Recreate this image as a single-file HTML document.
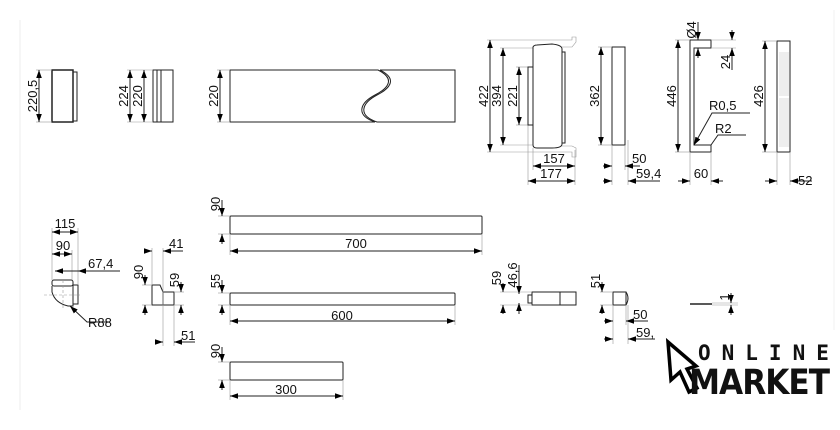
<!DOCTYPE html>
<html><head><meta charset="utf-8"><style>
html,body{margin:0;padding:0;background:#fff;}
svg{display:block;}
text{font-family:"Liberation Sans",Arial,sans-serif;font-size:13px;fill:#111;}
</style></head><body>
<svg width="840" height="430" viewBox="0 0 840 430" xmlns="http://www.w3.org/2000/svg">
<defs>
<marker id="a" viewBox="0 0 10 10" refX="10" refY="5" markerWidth="8" markerHeight="8" orient="auto-start-reverse"><path d="M0,1.5 L10,5 L0,8.5 z" fill="#000"/></marker>
</defs>
<line x1="20" y1="20" x2="20" y2="410" stroke="#eee"/>
<line x1="834" y1="10" x2="834" y2="330" stroke="#f2f2f2"/>
<g stroke="#222" fill="none" stroke-width="1">
<rect x="52" y="70" width="21" height="52" stroke-width="1.5"/>
<path d="M73,72 H77 V121 H73"/>
<g stroke="#999" stroke-width="0.6"><line x1="36" y1="70" x2="52" y2="70"/><line x1="36" y1="122" x2="52" y2="122"/></g>
<line x1="39" y1="70" x2="39" y2="122" marker-start="url(#a)" marker-end="url(#a)"/>
<rect x="153" y="70" width="20" height="52"/>
<line x1="157" y1="70" x2="157" y2="122"/><line x1="161" y1="70" x2="161" y2="122"/>
<g stroke="#999" stroke-width="0.6"><line x1="127" y1="70" x2="153" y2="70"/><line x1="127" y1="122" x2="153" y2="122"/></g>
<line x1="130" y1="70" x2="130" y2="122" marker-start="url(#a)" marker-end="url(#a)"/>
<line x1="144" y1="70" x2="144" y2="122" marker-start="url(#a)" marker-end="url(#a)"/>
<path d="M230,70 H378 C398,80 385,90 375,95 C360,103 355,115 375,122 H230 Z"/>
<path d="M380,70 H455 V122 H377 C357,115 362,103 377,95 C387,90 400,80 380,70" />
<g stroke="#999" stroke-width="0.6"><line x1="217" y1="70" x2="230" y2="70"/><line x1="217" y1="122" x2="230" y2="122"/></g>
<line x1="220" y1="70" x2="220" y2="122" marker-start="url(#a)" marker-end="url(#a)"/>
<g stroke="#999" stroke-width="0.6">
<path d="M487,40 H572 V37 H576 V42 L572,47 H562"/>
<path d="M487,152 H572 V157 H576 V148 L572,146 H562"/>
<line x1="500" y1="48" x2="533" y2="48"/><line x1="500" y1="145" x2="533" y2="145"/>
<line x1="516" y1="67" x2="528" y2="67"/><line x1="516" y1="125" x2="528" y2="125"/>
<line x1="533" y1="148" x2="533" y2="170"/><line x1="528" y1="125" x2="528" y2="185"/><line x1="575" y1="150" x2="575" y2="185"/>
</g>
<path d="M533,47 Q534,45 537,45 L552,44 Q562,45 562,49 V144 Q562,148 552,148 H537 Q533,148 533,145 Z"/>
<path d="M562,52 H565 V143 H562"/>
<path d="M533,67 H528 V125 H533"/>
<line x1="490" y1="40" x2="490" y2="152" marker-start="url(#a)" marker-end="url(#a)"/>
<line x1="503" y1="48" x2="503" y2="145" marker-start="url(#a)" marker-end="url(#a)"/>
<line x1="519" y1="67" x2="519" y2="125" marker-start="url(#a)" marker-end="url(#a)"/>
<line x1="533" y1="166" x2="575" y2="166" marker-start="url(#a)" marker-end="url(#a)"/>
<line x1="528" y1="181" x2="575" y2="181" marker-start="url(#a)" marker-end="url(#a)"/>
<rect x="612" y="47" width="13" height="98"/>
<g stroke="#999" stroke-width="0.6"><line x1="598" y1="47" x2="612" y2="47"/><line x1="598" y1="145" x2="612" y2="145"/>
<line x1="612" y1="145" x2="612" y2="185"/><line x1="625" y1="145" x2="625" y2="170"/><line x1="628" y1="140" x2="628" y2="185"/></g>
<line x1="601" y1="47" x2="601" y2="145" marker-start="url(#a)" marker-end="url(#a)"/>
<line x1="603" y1="166" x2="612" y2="166" marker-end="url(#a)"/><line x1="640" y1="166" x2="625" y2="166" marker-end="url(#a)"/>
<line x1="603" y1="181" x2="612" y2="181" marker-end="url(#a)"/><line x1="660" y1="181" x2="628" y2="181" marker-end="url(#a)"/>
<path d="M690,40 H711 V48 H694 V145 H711 V152 H690 Z"/>
<g stroke="#999" stroke-width="0.6"><line x1="675" y1="40" x2="690" y2="40"/><line x1="675" y1="152" x2="690" y2="152"/>
<line x1="711" y1="40" x2="736" y2="40"/><line x1="711" y1="48" x2="736" y2="48"/>
<line x1="690" y1="152" x2="690" y2="185"/><line x1="711" y1="152" x2="711" y2="185"/></g>
<line x1="678" y1="40" x2="678" y2="152" marker-start="url(#a)" marker-end="url(#a)"/>
<line x1="698" y1="22" x2="698" y2="40" marker-end="url(#a)"/><line x1="698" y1="58" x2="698" y2="48" marker-end="url(#a)"/>
<line x1="732" y1="30" x2="732" y2="40" marker-end="url(#a)"/><line x1="732" y1="70" x2="732" y2="48" marker-end="url(#a)"/>
<path d="M750,113 H712 L694,145" marker-end="url(#a)"/>
<path d="M746,135 H718 L711,145"/>
<line x1="678" y1="181" x2="690" y2="181" marker-end="url(#a)"/><line x1="723" y1="181" x2="711" y2="181" marker-end="url(#a)"/>
<rect x="777" y="41" width="13" height="111"/>
<g stroke="#bbb" stroke-width="0.5">
<line x1="780" y1="52" x2="780" y2="147"/><line x1="782" y1="52" x2="782" y2="147"/><line x1="784" y1="52" x2="784" y2="147"/><line x1="786" y1="52" x2="786" y2="147"/><line x1="788" y1="52" x2="788" y2="147"/>
</g>
<line x1="778" y1="97" x2="789" y2="97" stroke="#fff" stroke-width="2"/>
<g stroke="#999" stroke-width="0.6"><line x1="762" y1="41" x2="777" y2="41"/><line x1="762" y1="152" x2="777" y2="152"/>
<line x1="777" y1="152" x2="777" y2="185"/><line x1="790" y1="152" x2="790" y2="185"/></g>
<line x1="765" y1="41" x2="765" y2="152" marker-start="url(#a)" marker-end="url(#a)"/>
<line x1="765" y1="181" x2="777" y2="181" marker-end="url(#a)"/><line x1="812" y1="181" x2="790" y2="181" marker-end="url(#a)"/>

<rect x="230" y="216" width="252" height="18" rx="1"/>
<g stroke="#999" stroke-width="0.6"><line x1="218" y1="216" x2="230" y2="216"/><line x1="218" y1="234" x2="230" y2="234"/><line x1="230" y1="234" x2="230" y2="255"/><line x1="482" y1="234" x2="482" y2="255"/></g>
<line x1="222" y1="200" x2="222" y2="216" marker-end="url(#a)"/><line x1="222" y1="244" x2="222" y2="234" marker-end="url(#a)"/>
<line x1="230" y1="251" x2="482" y2="251" marker-start="url(#a)" marker-end="url(#a)"/>
<rect x="230" y="293" width="225" height="12" rx="1"/>
<g stroke="#999" stroke-width="0.6"><line x1="218" y1="293" x2="230" y2="293"/><line x1="218" y1="305" x2="230" y2="305"/><line x1="230" y1="305" x2="230" y2="325"/><line x1="455" y1="305" x2="455" y2="325"/></g>
<line x1="222" y1="280" x2="222" y2="293" marker-end="url(#a)"/><line x1="222" y1="315" x2="222" y2="305" marker-end="url(#a)"/>
<line x1="230" y1="321" x2="455" y2="321" marker-start="url(#a)" marker-end="url(#a)"/>
<rect x="230" y="362" width="113" height="18" rx="1"/>
<g stroke="#999" stroke-width="0.6"><line x1="218" y1="362" x2="230" y2="362"/><line x1="218" y1="380" x2="230" y2="380"/><line x1="230" y1="380" x2="230" y2="400"/><line x1="343" y1="380" x2="343" y2="400"/></g>
<line x1="222" y1="347" x2="222" y2="362" marker-end="url(#a)"/><line x1="222" y1="390" x2="222" y2="380" marker-end="url(#a)"/>
<line x1="230" y1="396" x2="343" y2="396" marker-start="url(#a)" marker-end="url(#a)"/>

<rect x="52" y="280" width="21" height="6" rx="2"/>
<path d="M52,286 V292 Q55,303 68,306 H73 V286"/>
<rect x="73" y="285" width="5" height="19"/>
<g stroke="#999" stroke-width="0.6"><line x1="52" y1="228" x2="52" y2="280"/><line x1="72" y1="250" x2="72" y2="280"/><line x1="78" y1="228" x2="78" y2="285"/><line x1="44" y1="295" x2="80" y2="295" stroke-dasharray="3,2"/><line x1="63" y1="280" x2="63" y2="310" stroke-dasharray="3,2"/></g>
<line x1="52" y1="232" x2="78" y2="232" marker-start="url(#a)" marker-end="url(#a)"/>
<line x1="52" y1="254" x2="72" y2="254" marker-start="url(#a)" marker-end="url(#a)"/>
<line x1="55" y1="271" x2="120" y2="271"/>
<line x1="55" y1="271" x2="62" y2="271" marker-start="url(#a)"/><line x1="90" y1="271" x2="78" y2="271" marker-end="url(#a)"/>
<path d="M110,322 H87 L70,306" marker-end="url(#a)"/>
<path d="M152,285 H160 L163,292 V305 H152 Z"/>
<rect x="163" y="292" width="11" height="13"/>
<g stroke="#999" stroke-width="0.6"><line x1="152" y1="248" x2="152" y2="285"/><line x1="163" y1="248" x2="163" y2="346"/><line x1="174" y1="305" x2="174" y2="346"/>
<line x1="142" y1="285" x2="152" y2="285"/><line x1="142" y1="305" x2="152" y2="305"/><line x1="174" y1="292" x2="184" y2="292"/><line x1="174" y1="305" x2="184" y2="305"/></g>
<line x1="145" y1="251" x2="152" y2="251" marker-end="url(#a)"/><line x1="183" y1="251" x2="163" y2="251" marker-end="url(#a)"/>
<line x1="145" y1="275" x2="145" y2="285" marker-end="url(#a)"/><line x1="145" y1="315" x2="145" y2="305" marker-end="url(#a)"/>
<line x1="181" y1="282" x2="181" y2="292" marker-end="url(#a)"/><line x1="181" y1="315" x2="181" y2="305" marker-end="url(#a)"/>
<line x1="156" y1="342" x2="163" y2="342" marker-end="url(#a)"/><line x1="195" y1="342" x2="174" y2="342" marker-end="url(#a)"/>

<rect x="528" y="295" width="4" height="8"/>
<rect x="532" y="292" width="28" height="13"/><rect x="560" y="292" width="16" height="13"/>
<g stroke="#999" stroke-width="0.6"><line x1="500" y1="292" x2="532" y2="292"/><line x1="500" y1="305" x2="532" y2="305"/></g>
<line x1="503" y1="283" x2="503" y2="292" marker-end="url(#a)"/><line x1="503" y1="314" x2="503" y2="305" marker-end="url(#a)"/>
<line x1="519" y1="265" x2="519" y2="294" marker-end="url(#a)"/><line x1="519" y1="314" x2="519" y2="303" marker-end="url(#a)"/>
<rect x="613" y="292" width="13" height="13"/><path d="M626,292 Q630,298 626,305"/>
<g stroke="#999" stroke-width="0.6"><line x1="600" y1="292" x2="613" y2="292"/><line x1="600" y1="305" x2="613" y2="305"/><line x1="613" y1="305" x2="613" y2="344"/><line x1="626" y1="305" x2="626" y2="325"/><line x1="628" y1="305" x2="628" y2="344"/></g>
<line x1="602" y1="282" x2="602" y2="292" marker-end="url(#a)"/><line x1="602" y1="314" x2="602" y2="305" marker-end="url(#a)"/>
<line x1="604" y1="321" x2="613" y2="321" marker-end="url(#a)"/><line x1="648" y1="321" x2="626" y2="321" marker-end="url(#a)"/>
<line x1="604" y1="339" x2="613" y2="339" marker-end="url(#a)"/><line x1="655" y1="339" x2="628" y2="339" marker-end="url(#a)"/>
<line x1="690" y1="304" x2="712" y2="304" stroke-width="1.5"/>
<g stroke="#999" stroke-width="0.6"><line x1="712" y1="303" x2="738" y2="303"/><line x1="712" y1="305" x2="738" y2="305"/></g>
<line x1="731" y1="293" x2="731" y2="303" marker-end="url(#a)"/><line x1="731" y1="315" x2="731" y2="305" marker-end="url(#a)"/>
</g>

<g>
<text transform="translate(37,96) rotate(-90)" text-anchor="middle">220,5</text>
<text transform="translate(128,96) rotate(-90)" text-anchor="middle">224</text>
<text transform="translate(142,96) rotate(-90)" text-anchor="middle">220</text>
<text transform="translate(218,96) rotate(-90)" text-anchor="middle">220</text>
<text transform="translate(488,96) rotate(-90)" text-anchor="middle">422</text>
<text transform="translate(501,96) rotate(-90)" text-anchor="middle">394</text>
<text transform="translate(517,96) rotate(-90)" text-anchor="middle">221</text>
<text x="554" y="163" text-anchor="middle">157</text>
<text x="551" y="178" text-anchor="middle">177</text>
<text transform="translate(599,96) rotate(-90)" text-anchor="middle">362</text>
<text x="632" y="163">50</text>
<text x="636" y="178">59,4</text>
<text transform="translate(676,96) rotate(-90)" text-anchor="middle">446</text>
<text transform="translate(696,30) rotate(-90)" text-anchor="middle">Ø4</text>
<text transform="translate(730,62) rotate(-90)" text-anchor="middle">24</text>
<text x="709" y="110">R0,5</text>
<text x="715" y="133">R2</text>
<text x="701" y="178" text-anchor="middle">60</text>
<text transform="translate(763,96) rotate(-90)" text-anchor="middle">426</text>
<text x="798" y="185">52</text>
<text transform="translate(220,204) rotate(-90)" text-anchor="middle">90</text>
<text x="356" y="248" text-anchor="middle">700</text>
<text transform="translate(220,281) rotate(-90)" text-anchor="middle">55</text>
<text x="342" y="320" text-anchor="middle">600</text>
<text transform="translate(220,351) rotate(-90)" text-anchor="middle">90</text>
<text x="286" y="394" text-anchor="middle">300</text>
<text x="65" y="228" text-anchor="middle">115</text>
<text x="63" y="250" text-anchor="middle">90</text>
<text x="88" y="268">67,4</text>
<text x="88" y="327">R88</text>
<text x="169" y="248">41</text>
<text transform="translate(143,272) rotate(-90)" text-anchor="middle">90</text>
<text transform="translate(179,280) rotate(-90)" text-anchor="middle">59</text>
<text x="181" y="340">51</text>
<text transform="translate(501,278) rotate(-90)" text-anchor="middle">59</text>
<text transform="translate(517,275) rotate(-90)" text-anchor="middle">46,6</text>
<text transform="translate(600,281) rotate(-90)" text-anchor="middle">51</text>
<text x="633" y="319">50</text>
<text x="636" y="337">59,</text>
<text transform="translate(729,297) rotate(-90)" text-anchor="middle">1</text>
</g>

<path d="M668,342 L696,366 L687,369 L697,388 L689,392 L680,372 L671,380 Z" fill="none" stroke="#000" stroke-width="3.5" stroke-linejoin="miter"/>
<text x="698" y="360" style="font-size:21px;font-weight:bold;letter-spacing:11px;font-family:'DejaVu Sans Mono','Liberation Mono',monospace">ONLINE</text>
<text x="689" y="394" style="font-size:35px;font-weight:bold;letter-spacing:-1px;font-family:'DejaVu Sans Condensed','Liberation Sans Narrow','Liberation Sans',sans-serif" textLength="140" lengthAdjust="spacingAndGlyphs">MARKET</text>
</svg>
</body></html>
